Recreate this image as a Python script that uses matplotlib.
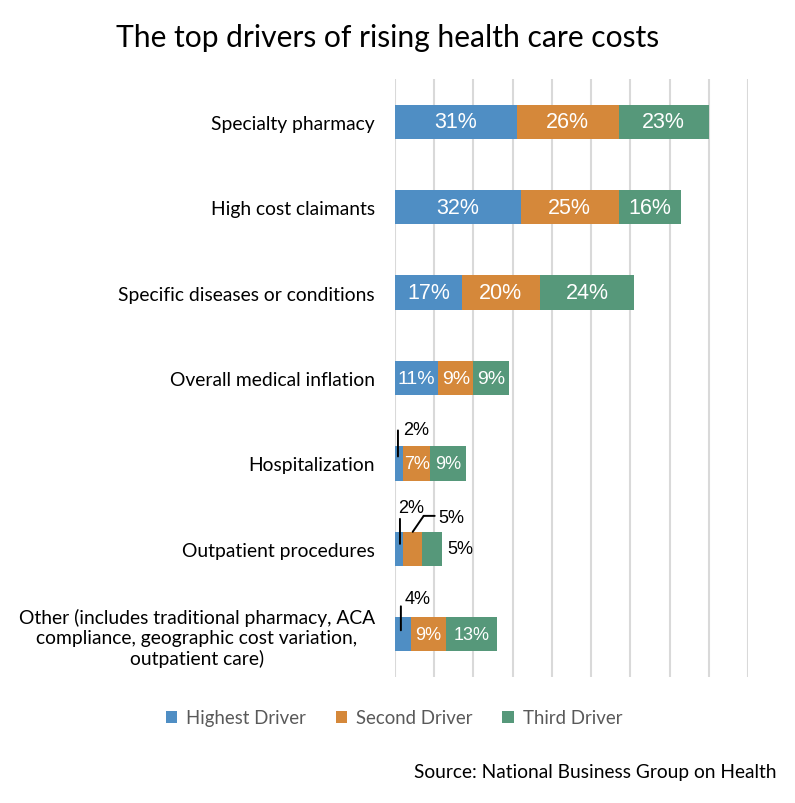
import numpy as np
import matplotlib.pyplot as plt
from matplotlib.transforms import offset_copy
from matplotlib.patches import Patch

# Dados
categories = [
    "Specialty pharmacy",
    "High cost claimants",
    "Specific diseases or conditions",
    "Overall medical inflation",
    "Hospitalization",
    "Outpatient procedures",
    "Other (includes traditional pharmacy, ACA\ncompliance, geographic cost variation,\noutpatient care)",
]
highest = [31, 32, 17, 11, 2, 2, 4]
second = [26, 25, 20, 9, 7, 5, 9]
third = [23, 16, 24, 9, 9, 5, 13]
series_names = ["Highest Driver", "Second Driver", "Third Driver"]
colors = ["#4F8EC4", "#D5883A", "#56987A"]

lab_font = "Lato"
num_font = "Liberation Sans"

fig = plt.figure(figsize=(7.95, 8.04), dpi=100)
ax = fig.add_axes([0.4969, 0.1567, 0.4440, 0.7438])

y = np.arange(len(categories))
left = np.zeros(len(categories))
for vals, c in zip([highest, second, third], colors):
    ax.barh(y, vals, left=left, height=0.4, color=c, zorder=3)
    left += np.array(vals)

ax.set_xlim(0, 90)
ax.set_ylim(len(categories) - 0.5, -0.5)
ax.set_xticks(np.arange(0, 91, 10))
ax.xaxis.grid(True, color="#D9D9D9", lw=1.5, zorder=0)
ax.tick_params(axis="x", length=0, labelbottom=False)
ax.tick_params(axis="y", length=0, pad=14.5)
for s in ax.spines.values():
    s.set_visible(False)
ax.set_yticks(y)
ax.set_yticklabels(categories, fontsize=13.9, family=lab_font)
for t in ax.get_yticklabels():
    t.set_multialignment("center")

# rótulos brancos dentro das barras
sizes = [15.5, 15.5, 15.5, 14, 13, 13, 13]
inside = {0: [0, 1, 2], 1: [0, 1, 2], 2: [0, 1, 2], 3: [0, 1, 2], 4: [1, 2], 5: [], 6: [1, 2]}
data = [highest, second, third]
for i in range(len(categories)):
    start = 0
    for k in range(3):
        v = data[k][i]
        if k in inside[i]:
            ax.text(start + v / 2, i, f"{v}%", ha="center", va="center", color="white",
                    fontsize=sizes[i], family=num_font, zorder=4)
        start += v


def off(dx, dy):
    # deslocamento em pixels (dy positivo = para baixo)
    return offset_copy(ax.transData, fig=fig, x=dx * 0.72, y=-dy * 0.72, units="points")


def leader(x, row, p1, p2):
    ax.annotate("", xy=(x, row), xycoords=off(*p1), xytext=(x, row), textcoords=off(*p2),
                arrowprops=dict(arrowstyle="-", color="black", lw=1.4, shrinkA=0, shrinkB=0),
                zorder=5)


def outlabel(x, row, v, dx, dy, ha="left"):
    ax.text(x, row, f"{v}%", transform=off(dx, dy), ha=ha, va="center", color="black",
            fontsize=13, family=num_font, zorder=5)


# Hospitalization
xc = highest[4] / 2
leader(xc, 4, (-1, -7), (-1, -33))
outlabel(xc, 4, highest[4], 4, -34)
# Outpatient procedures
xc = highest[5] / 2
leader(xc, 5, (1, -5), (1, -30))
outlabel(xc, 5, highest[5], 12, -41, ha="center")
xc = highest[5] + second[5] / 2
leader(xc, 5, (0, -17), (11, -33))
leader(xc, 5, (11, -33), (22, -33))
outlabel(xc, 5, second[5], 26, -31)
xc = highest[5] + second[5] + third[5] / 2
outlabel(xc, 5, third[5], 28, 0, ha="center")
# Other
xc = highest[6] / 2
leader(xc, 6, (-2, -28), (-2, -4))
outlabel(xc, 6, highest[6], 2, -36)

fig.text(0.487, 1 - 38 / 804, "The top drivers of rising health care costs", ha="center", va="center",
         fontsize=21.6, family=lab_font)

handles = [Patch(facecolor=c) for c in colors]
leg = fig.legend(handles, series_names, loc="center", bbox_to_anchor=(394 / 795, 1 - 719 / 804),
                 ncol=3, frameon=False, handlelength=0.6, handleheight=0.6, handletextpad=0.5,
                 columnspacing=1.6, prop={"family": lab_font, "size": 13.4})
for t in leg.get_texts():
    t.set_color("#595959")

fig.text(777 / 795, 1 - 773 / 804, "Source: National Business Group on Health", ha="right", va="center",
         fontsize=13.8, family=lab_font)

fig.savefig("out.png", dpi=100)
